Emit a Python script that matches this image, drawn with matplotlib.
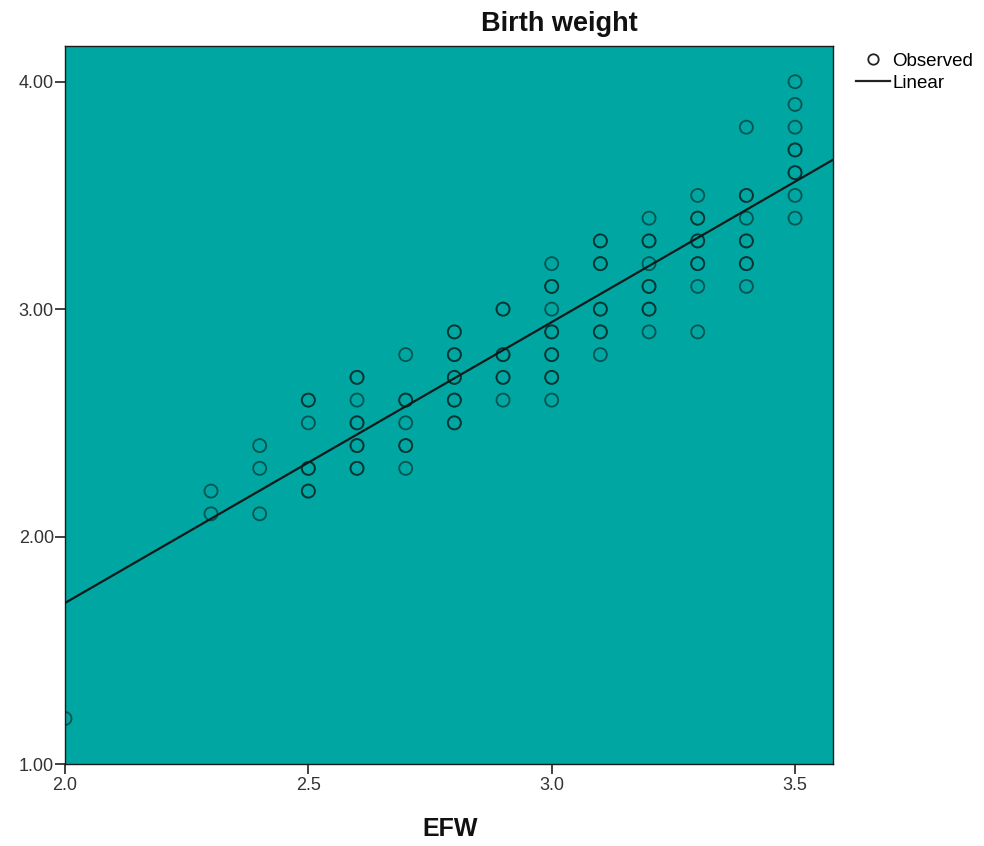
import numpy as np
import matplotlib
matplotlib.use("Agg")
import matplotlib.pyplot as plt
from matplotlib.lines import Line2D

plt.rcParams['font.family'] = ['Liberation Sans', 'DejaVu Sans']

# Observed data: EFW (x) and birth weight (y); repeated entries = overlapping points
efw_groups = [2.0, 2.3, 2.4, 2.5, 2.6, 2.7, 2.8, 2.9, 3.0, 3.1, 3.2, 3.3, 3.4, 3.5]
bw_groups = [
    [1.2],
    [2.2, 2.1],
    [2.4, 2.3, 2.1],
    [2.6, 2.6, 2.5, 2.3, 2.3, 2.2, 2.2],
    [2.7, 2.7, 2.6, 2.5, 2.5, 2.4, 2.4, 2.3, 2.3],
    [2.8, 2.6, 2.6, 2.5, 2.4, 2.4, 2.3],
    [2.9, 2.9, 2.8, 2.8, 2.7, 2.7, 2.6, 2.6, 2.5, 2.5],
    [3.0, 3.0, 2.8, 2.8, 2.7, 2.7, 2.6],
    [3.2, 3.1, 3.1, 3.0, 2.9, 2.9, 2.8, 2.8, 2.7, 2.7, 2.6],
    [3.3, 3.3, 3.2, 3.2, 3.0, 3.0, 2.9, 2.9, 2.8],
    [3.4, 3.3, 3.3, 3.2, 3.1, 3.1, 3.0, 3.0, 2.9],
    [3.5, 3.4, 3.4, 3.3, 3.3, 3.2, 3.2, 3.1, 2.9],
    [3.8, 3.5, 3.5, 3.4, 3.3, 3.3, 3.2, 3.2, 3.1],
    [4.0, 3.9, 3.8, 3.7, 3.7, 3.6, 3.6, 3.5, 3.4],
]
# Linear fit shown in the chart (intercept, slope)
fit_intercept = -0.762
fit_slope = 1.235

x_ticks = [2.0, 2.5, 3.0, 3.5]
x_tick_labels = ["2.0", "2.5", "3.0", "3.5"]
y_ticks = [1.0, 2.0, 3.0, 4.0]
y_tick_labels = ["1.00", "2.00", "3.00", "4.00"]

x = np.concatenate([[gx] * len(gy) for gx, gy in zip(efw_groups, bw_groups)])
y = np.concatenate([np.array(gy, dtype=float) for gy in bw_groups])

fig = plt.figure(figsize=(9.84, 8.46), dpi=100)
ax = fig.add_axes([65 / 984, (846 - 764) / 846, (833 - 65) / 984, (764 - 46) / 846])
ax.set_facecolor("#00A6A1")

ax.scatter(x, y, s=88, facecolors="none", edgecolors="#06201f", linewidths=1.3,
           alpha=0.6, zorder=3, clip_on=True)

xmin, xmax = 2.0, 3.578
xl = np.array([xmin, xmax])
ax.plot(xl, fit_intercept + fit_slope * xl, color="#0a1a1a", lw=1.6, zorder=4)

ax.set_xlim(xmin, xmax)
ax.set_ylim(1.0, 4.157)
ax.set_xticks(x_ticks)
ax.set_xticklabels(x_tick_labels)
ax.set_yticks(y_ticks)
ax.set_yticklabels(y_tick_labels)
ax.tick_params(direction="out", length=7.5, width=1.2, colors="#222222", labelsize=13,
               labelcolor="#333333")
ax.tick_params(axis="y", pad=0.5)
ax.tick_params(axis="x", pad=1.5)
for sp in ax.spines.values():
    sp.set_color("#1a1a1a")
    sp.set_linewidth(1.0)

fig.text(559 / 984, 1 - 24 / 846, "Birth weight", ha="center", va="center",
         fontsize=19.5, fontweight="bold", color="#111111")
fig.text(450 / 984, 1 - 829 / 846, "EFW", ha="center", va="center",
         fontsize=18, fontweight="bold", color="#111111")

handles = [
    Line2D([], [], marker="o", linestyle="none", markerfacecolor="none",
           markeredgecolor="#222222", markersize=7.5, markeredgewidth=1.3),
    Line2D([], [], color="#222222", lw=1.6),
]
fig.legend(handles, ["Observed", "Linear"], loc="upper left",
           bbox_to_anchor=(852 / 984, 1 - 49 / 846), frameon=False,
           fontsize=13.5, handlelength=1.8, handletextpad=0.15, labelspacing=0.25,
           borderaxespad=0, borderpad=0.2)

fig.savefig("out.png", dpi=100)
